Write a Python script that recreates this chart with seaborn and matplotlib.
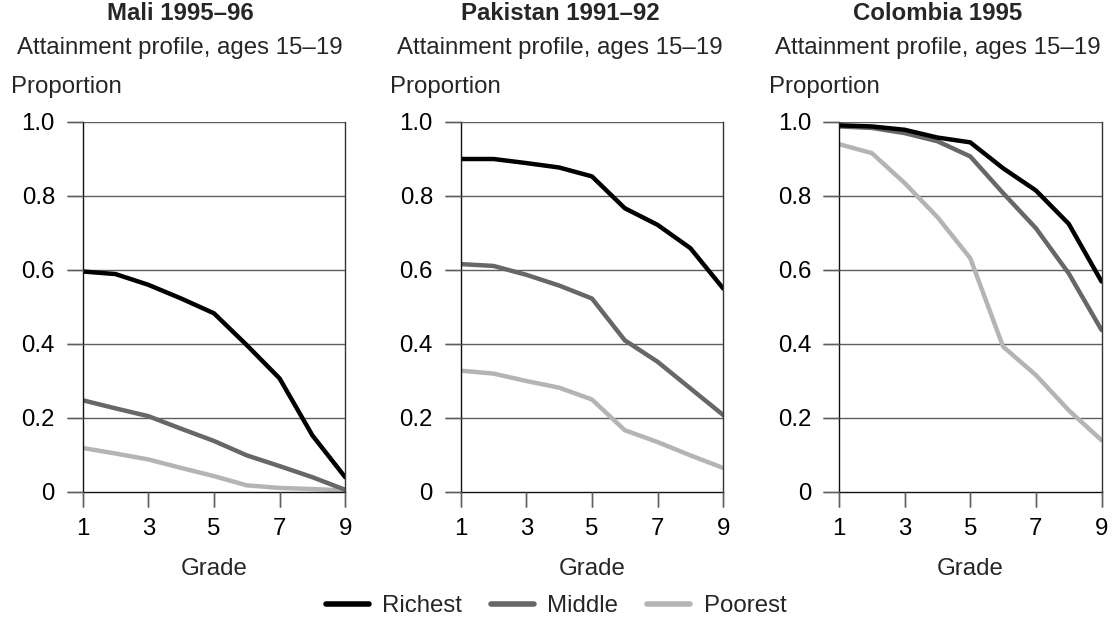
import numpy as np
import pandas as pd
import matplotlib
matplotlib.use("Agg")
import matplotlib.pyplot as plt
from matplotlib.lines import Line2D
import seaborn as sns

grades = [1, 2, 3, 4, 5, 6, 7, 8, 9]
groups = ["Richest", "Middle", "Poorest"]

mali_richest = [0.596, 0.589, 0.560, 0.523, 0.483, 0.397, 0.307, 0.153, 0.040]
mali_middle = [0.248, 0.226, 0.205, 0.171, 0.138, 0.099, 0.070, 0.040, 0.006]
mali_poorest = [0.119, 0.104, 0.088, 0.065, 0.043, 0.018, 0.011, 0.008, 0.004]

pak_richest = [0.900, 0.900, 0.889, 0.877, 0.853, 0.767, 0.722, 0.659, 0.550]
pak_middle = [0.616, 0.611, 0.587, 0.558, 0.523, 0.410, 0.352, 0.280, 0.208]
pak_poorest = [0.328, 0.320, 0.300, 0.282, 0.250, 0.167, 0.135, 0.099, 0.065]

col_richest = [0.991, 0.988, 0.979, 0.958, 0.945, 0.875, 0.815, 0.725, 0.569]
col_middle = [0.988, 0.984, 0.970, 0.948, 0.907, 0.808, 0.713, 0.591, 0.438]
col_poorest = [0.940, 0.916, 0.835, 0.743, 0.632, 0.393, 0.316, 0.221, 0.140]

titles = ["Mali 1995\u201396", "Pakistan 1991\u201392", "Colombia 1995"]
subtitle = "Attainment profile, ages 15\u201319"
x_ticks = [1, 3, 5, 7, 9]
y_ticks = [0, 0.2, 0.4, 0.6, 0.8, 1.0]
y_tick_labels = ["0", "0.2", "0.4", "0.6", "0.8", "1.0"]

panels = [
    (mali_richest, mali_middle, mali_poorest),
    (pak_richest, pak_middle, pak_poorest),
    (col_richest, col_middle, col_poorest),
]

palette = {"Richest": "#000000", "Middle": "#676767", "Poorest": "#b4b4b4"}
GRID = "#5e5e5e"

sns.set_theme(style="ticks")
plt.rcParams["font.family"] = ["Liberation Sans", "DejaVu Sans"]
plt.rcParams["axes.axisbelow"] = False
FS = 17.3

W, H = 1112, 621
fig = plt.figure(figsize=(W / 100, H / 100), dpi=100)

lefts = [82.7, 460.7, 839.0]
ax_w = 262.5
ax_top, ax_bot = 122.0, 492.0
ax_h = ax_bot - ax_top
title_cx = [180, 560, 938]
prop_x = [11, 390, 769]

for i, (r, m, p) in enumerate(panels):
    ax = fig.add_axes([lefts[i] / W, (H - ax_bot) / H, ax_w / W, ax_h / H])
    df = pd.DataFrame({
        "Grade": grades * 3,
        "Proportion": r + m + p,
        "Group": ["Richest"] * 9 + ["Middle"] * 9 + ["Poorest"] * 9,
    })
    sns.lineplot(data=df, x="Grade", y="Proportion", hue="Group",
                 hue_order=["Poorest", "Middle", "Richest"], palette=palette,
                 linewidth=3.2, legend=False, ax=ax)
    ax.set_xlim(1, 9)
    ax.set_ylim(0, 1.0)
    ax.set_xticks(x_ticks)
    ax.set_xticklabels([str(t) for t in x_ticks], fontsize=FS)
    ax.set_yticks(y_ticks)
    ax.set_yticklabels(y_tick_labels, fontsize=FS)
    ax.tick_params(axis="y", length=11.5, pad=8.5, width=1.0, color=GRID,
                   left=True, right=False, labelcolor="black", direction="out")
    ax.tick_params(axis="x", length=11, pad=8, width=1.0, color=GRID,
                   bottom=True, top=False, labelcolor="black", direction="out")
    # outward tick marks at the tick positions (axis-coordinate lengths)
    ax.vlines(x_ticks, -15 / ax_h, 0, transform=ax.get_xaxis_transform(),
              colors=GRID, lw=1.0, clip_on=False, zorder=3)
    ax.hlines(y_ticks, -16 / ax_w, 0, transform=ax.get_yaxis_transform(),
              colors=GRID, lw=1.0, clip_on=False, zorder=3)
    ax.grid(False)
    for y in y_ticks[1:]:
        ax.axhline(y, color=GRID, lw=1.0, zorder=0.5)
    for s in ["left", "bottom", "right"]:
        ax.spines[s].set_visible(True)
        ax.spines[s].set_linewidth(1.0)
    ax.spines["left"].set_color("#111111")
    ax.spines["bottom"].set_color("#111111")
    ax.spines["right"].set_color("#333333")
    ax.spines["top"].set_visible(False)
    ax.set_xlabel("Grade", fontsize=FS, labelpad=13)
    ax.set_ylabel("")

    fig.text(title_cx[i] / W, 1 - 14 / H, titles[i], ha="center", va="center",
             fontsize=FS, fontweight="bold")
    fig.text(title_cx[i] / W, 1 - 48 / H, subtitle, ha="center", va="center", fontsize=FS)
    fig.text(prop_x[i] / W, 1 - 87 / H, "Proportion", ha="left", va="center", fontsize=FS)

handles = [Line2D([0], [0], color=palette[g], lw=4.0) for g in groups]
fig.legend(handles, groups, loc="center", bbox_to_anchor=(0.5, 1 - 606 / H), ncol=3,
           frameon=False, fontsize=FS, handlelength=1.8, handletextpad=0.55,
           columnspacing=1.2, borderpad=0)

fig.savefig("out.png", dpi=100, facecolor="white")
